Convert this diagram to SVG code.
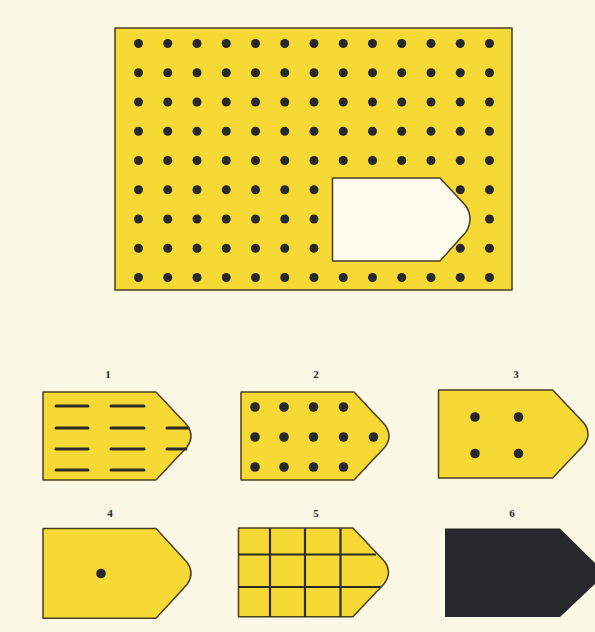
<svg xmlns="http://www.w3.org/2000/svg" width="595" height="632" viewBox="0 0 595 632">
<defs>
<style>
.bg{fill:#fcf8e6}
.y{fill:#f7d935;stroke:#4a3f1e;stroke-width:1.5;stroke-linejoin:round}
.d{fill:#26282b}
.hole{fill:#fdfbee;stroke:#4a3f1e;stroke-width:1.5;stroke-linejoin:round}
.ln{stroke:#2e2b24;stroke-width:3;stroke-linecap:round}
.gr{stroke:#2e2b24;stroke-width:2.2}
.lbl{font-family:"Liberation Serif",serif;font-weight:bold;font-size:11px;fill:#2a2a2a;text-anchor:middle}
</style>
<path id="tag" d="M0,0 H113 L144,33 Q152,44 144,55 L113,88 H0 Z"/>
</defs>
<rect class="bg" width="595" height="632"/>
<g id="panel">
<rect class="y" x="115" y="28" width="397" height="262"/>
<g id="dots" class="d">
<circle cx="138.5" cy="43.5" r="4.5"/><circle cx="167.75" cy="43.5" r="4.5"/><circle cx="197" cy="43.5" r="4.5"/><circle cx="226.25" cy="43.5" r="4.5"/><circle cx="255.5" cy="43.5" r="4.5"/><circle cx="284.75" cy="43.5" r="4.5"/><circle cx="314" cy="43.5" r="4.5"/><circle cx="343.25" cy="43.5" r="4.5"/><circle cx="372.5" cy="43.5" r="4.5"/><circle cx="401.75" cy="43.5" r="4.5"/><circle cx="431" cy="43.5" r="4.5"/><circle cx="460.25" cy="43.5" r="4.5"/><circle cx="489.5" cy="43.5" r="4.5"/>
<circle cx="138.5" cy="72.75" r="4.5"/><circle cx="167.75" cy="72.75" r="4.5"/><circle cx="197" cy="72.75" r="4.5"/><circle cx="226.25" cy="72.75" r="4.5"/><circle cx="255.5" cy="72.75" r="4.5"/><circle cx="284.75" cy="72.75" r="4.5"/><circle cx="314" cy="72.75" r="4.5"/><circle cx="343.25" cy="72.75" r="4.5"/><circle cx="372.5" cy="72.75" r="4.5"/><circle cx="401.75" cy="72.75" r="4.5"/><circle cx="431" cy="72.75" r="4.5"/><circle cx="460.25" cy="72.75" r="4.5"/><circle cx="489.5" cy="72.75" r="4.5"/>
<circle cx="138.5" cy="102" r="4.5"/><circle cx="167.75" cy="102" r="4.5"/><circle cx="197" cy="102" r="4.5"/><circle cx="226.25" cy="102" r="4.5"/><circle cx="255.5" cy="102" r="4.5"/><circle cx="284.75" cy="102" r="4.5"/><circle cx="314" cy="102" r="4.5"/><circle cx="343.25" cy="102" r="4.5"/><circle cx="372.5" cy="102" r="4.5"/><circle cx="401.75" cy="102" r="4.5"/><circle cx="431" cy="102" r="4.5"/><circle cx="460.25" cy="102" r="4.5"/><circle cx="489.5" cy="102" r="4.5"/>
<circle cx="138.5" cy="131.25" r="4.5"/><circle cx="167.75" cy="131.25" r="4.5"/><circle cx="197" cy="131.25" r="4.5"/><circle cx="226.25" cy="131.25" r="4.5"/><circle cx="255.5" cy="131.25" r="4.5"/><circle cx="284.75" cy="131.25" r="4.5"/><circle cx="314" cy="131.25" r="4.5"/><circle cx="343.25" cy="131.25" r="4.5"/><circle cx="372.5" cy="131.25" r="4.5"/><circle cx="401.75" cy="131.25" r="4.5"/><circle cx="431" cy="131.25" r="4.5"/><circle cx="460.25" cy="131.25" r="4.5"/><circle cx="489.5" cy="131.25" r="4.5"/>
<circle cx="138.5" cy="160.5" r="4.5"/><circle cx="167.75" cy="160.5" r="4.5"/><circle cx="197" cy="160.5" r="4.5"/><circle cx="226.25" cy="160.5" r="4.5"/><circle cx="255.5" cy="160.5" r="4.5"/><circle cx="284.75" cy="160.5" r="4.5"/><circle cx="314" cy="160.5" r="4.5"/><circle cx="343.25" cy="160.5" r="4.5"/><circle cx="372.5" cy="160.5" r="4.5"/><circle cx="401.75" cy="160.5" r="4.5"/><circle cx="431" cy="160.5" r="4.5"/><circle cx="460.25" cy="160.5" r="4.5"/><circle cx="489.5" cy="160.5" r="4.5"/>
<circle cx="138.5" cy="189.75" r="4.5"/><circle cx="167.75" cy="189.75" r="4.5"/><circle cx="197" cy="189.75" r="4.5"/><circle cx="226.25" cy="189.75" r="4.5"/><circle cx="255.5" cy="189.75" r="4.5"/><circle cx="284.75" cy="189.75" r="4.5"/><circle cx="314" cy="189.75" r="4.5"/><circle cx="460.25" cy="189.75" r="4.5"/><circle cx="489.5" cy="189.75" r="4.5"/>
<circle cx="138.5" cy="219" r="4.5"/><circle cx="167.75" cy="219" r="4.5"/><circle cx="197" cy="219" r="4.5"/><circle cx="226.25" cy="219" r="4.5"/><circle cx="255.5" cy="219" r="4.5"/><circle cx="284.75" cy="219" r="4.5"/><circle cx="314" cy="219" r="4.5"/><circle cx="489.5" cy="219" r="4.5"/>
<circle cx="138.5" cy="248.25" r="4.5"/><circle cx="167.75" cy="248.25" r="4.5"/><circle cx="197" cy="248.25" r="4.5"/><circle cx="226.25" cy="248.25" r="4.5"/><circle cx="255.5" cy="248.25" r="4.5"/><circle cx="284.75" cy="248.25" r="4.5"/><circle cx="314" cy="248.25" r="4.5"/><circle cx="460.25" cy="248.25" r="4.5"/><circle cx="489.5" cy="248.25" r="4.5"/>
<circle cx="138.5" cy="277.5" r="4.5"/><circle cx="167.75" cy="277.5" r="4.5"/><circle cx="197" cy="277.5" r="4.5"/><circle cx="226.25" cy="277.5" r="4.5"/><circle cx="255.5" cy="277.5" r="4.5"/><circle cx="284.75" cy="277.5" r="4.5"/><circle cx="314" cy="277.5" r="4.5"/><circle cx="343.25" cy="277.5" r="4.5"/><circle cx="372.5" cy="277.5" r="4.5"/><circle cx="401.75" cy="277.5" r="4.5"/><circle cx="431" cy="277.5" r="4.5"/><circle cx="460.25" cy="277.5" r="4.5"/><circle cx="489.5" cy="277.5" r="4.5"/>
</g>
<path class="hole" d="M332.5,178 H440 L466,206 Q474,219 466,232 L440,261 H332.5 Z"/>
</g>
<g id="opt1">
<text class="lbl" x="108" y="378">1</text>
<use href="#tag" class="y" transform="translate(43,392)"/>
<path class="ln" d="M56,406 H88 M111,406 H144 M56,428 H88 M111,428 H144 M167,428 H188 M56,449 H88 M111,449 H144 M167,449 H186 M56,470 H88 M111,470 H144"/>
</g>
<g id="opt2">
<text class="lbl" x="316" y="378">2</text>
<use href="#tag" class="y" transform="translate(241,392)"/>
<g class="d">
<circle cx="255" cy="407" r="4.8"/><circle cx="284" cy="407" r="4.8"/><circle cx="313.5" cy="407" r="4.8"/><circle cx="343.5" cy="407" r="4.8"/>
<circle cx="255" cy="437" r="4.8"/><circle cx="284" cy="437" r="4.8"/><circle cx="313.5" cy="437" r="4.8"/><circle cx="343.5" cy="437" r="4.8"/><circle cx="373.5" cy="437" r="4.8"/>
<circle cx="255" cy="467" r="4.8"/><circle cx="284" cy="467" r="4.8"/><circle cx="313.5" cy="467" r="4.8"/><circle cx="343.5" cy="467" r="4.8"/>
</g>
</g>
<g id="opt3">
<text class="lbl" x="516" y="378">3</text>
<use href="#tag" class="y" transform="translate(438.5,390) scale(1.01,1)"/>
<g class="d">
<circle cx="475" cy="417" r="4.8"/><circle cx="518.5" cy="417" r="4.8"/><circle cx="475" cy="453.5" r="4.8"/><circle cx="518.5" cy="453.5" r="4.8"/>
</g>
</g>
<g id="opt4">
<text class="lbl" x="110" y="517">4</text>
<use href="#tag" class="y" transform="translate(43,528.5) scale(1,1.02)"/>
<circle class="d" cx="101" cy="573.5" r="4.8"/>
</g>
<g id="opt5">
<text class="lbl" x="316" y="517">5</text>
<use href="#tag" class="y" transform="translate(238.5,528) scale(1.013,1.008)"/>
<path class="gr" d="M270,528 V616.5 M305,528 V616.5 M340.5,528 V616.5 M238.5,554.5 H376 M238.5,587 H381"/>
</g>
<g id="opt6">
<text class="lbl" x="512" y="517">6</text>
<path fill="#26282b" d="M445,528.5 H560 L595,563 V584 L560,617 H445 Z"/>
</g>
</svg>
